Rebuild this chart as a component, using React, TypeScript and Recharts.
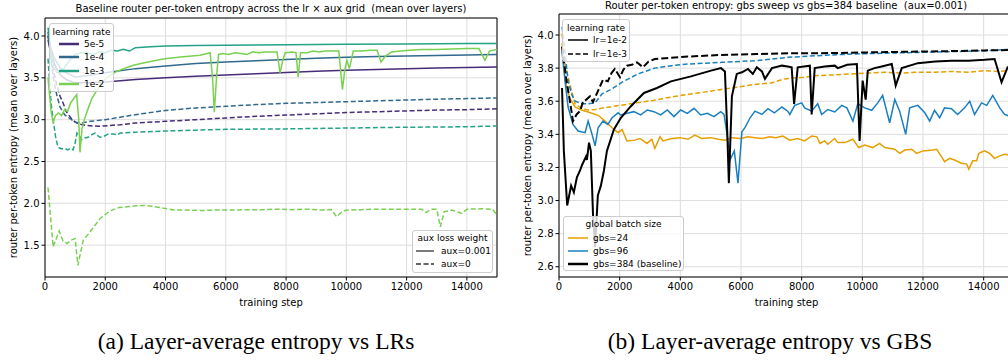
import React from "react";
import { CartesianGrid, Line, LineChart, ReferenceArea, XAxis, YAxis } from "recharts";

type Pt = [number, number];

// ---- (a) lr x aux grid, values are [step, entropy] ----
const lrLabels = ["5e-5", "1e-4", "1e-3", "1e-2"];
const lrColors = ["#472c7a", "#31688e", "#22a385", "#7ad151"];
const auxLabels = ["aux=0.001", "aux=0"];

const lr5e5Aux: Pt[] = [
  [100, 3.95], [200, 3.8], [300, 3.68], [400, 3.6], [500, 3.54], [700, 3.48], [1000, 3.44], [1500, 3.44],
  [2000, 3.45], [3000, 3.48], [4000, 3.5], [5000, 3.52], [6000, 3.535], [7000, 3.55], [8000, 3.565],
  [9000, 3.58], [10000, 3.59], [11000, 3.6], [12000, 3.61], [13000, 3.617], [14000, 3.623], [15000, 3.63],
];
const lr1e4Aux: Pt[] = [
  [100, 4.0], [200, 3.85], [300, 3.74], [500, 3.62], [700, 3.56], [1000, 3.51], [1500, 3.53], [2000, 3.56],
  [3000, 3.61], [4000, 3.64], [5000, 3.67], [6000, 3.69], [7000, 3.705], [8000, 3.72], [9000, 3.735],
  [10000, 3.745], [11000, 3.755], [12000, 3.762], [13000, 3.768], [14000, 3.774], [15000, 3.78],
];
const lr1e3Aux: Pt[] = [
  [100, 4.1], [200, 3.8], [300, 3.62], [400, 3.56], [600, 3.6], [800, 3.7], [1000, 3.78], [1200, 3.8],
  [1400, 3.8], [1600, 3.78], [1800, 3.81], [2000, 3.8], [2200, 3.83], [2400, 3.82], [2600, 3.84],
  [2800, 3.82], [3000, 3.86], [3500, 3.87], [4000, 3.88], [5000, 3.885], [6000, 3.89], [8000, 3.895],
  [10000, 3.9], [12000, 3.905], [14000, 3.91], [15000, 3.91],
];
const lr1e2Aux: Pt[] = [
  [100, 3.5], [200, 3.1], [270, 2.97], [350, 3.05], [450, 3.08], [550, 3.05], [650, 3.12], [750, 3.1],
  [850, 3.2], [950, 3.25], [1050, 3.3], [1120, 3.0], [1160, 2.61], [1230, 2.9], [1330, 3.03], [1450, 3.15],
  [1550, 3.25], [1720, 3.35], [1900, 3.45], [2150, 3.53], [2400, 3.58], [2700, 3.62], [2930, 3.65],
  [3300, 3.68], [3700, 3.71], [4040, 3.73], [4500, 3.75], [5150, 3.77], [5480, 3.8], [5560, 3.5],
  [5620, 3.09], [5700, 3.55], [5760, 3.78], [5900, 3.79], [6100, 3.78], [6300, 3.8], [6500, 3.79],
  [6700, 3.78], [6900, 3.81], [7100, 3.8], [7300, 3.81], [7500, 3.81], [7700, 3.81], [7800, 3.56],
  [7900, 3.72], [7970, 3.8], [8200, 3.81], [8330, 3.8], [8400, 3.51], [8480, 3.8], [8700, 3.8],
  [8900, 3.82], [9100, 3.81], [9300, 3.82], [9500, 3.82], [9750, 3.82], [9870, 3.36], [9950, 3.6],
  [10020, 3.71], [10100, 3.61], [10230, 3.82], [10500, 3.82], [10800, 3.83], [11020, 3.83], [11150, 3.69],
  [11300, 3.76], [11500, 3.81], [11800, 3.82], [12100, 3.83], [12500, 3.84], [13000, 3.84], [13500, 3.845],
  [14000, 3.85], [14400, 3.85], [14600, 3.71], [14750, 3.82], [15000, 3.84],
];
const lr5e5NoAux: Pt[] = [
  [100, 4.0], [200, 3.75], [300, 3.55], [400, 3.4], [500, 3.28], [600, 3.2], [700, 3.1], [900, 3.0],
  [1100, 2.95], [1400, 2.93], [1800, 2.92], [2500, 2.94], [3000, 2.96], [4000, 2.98], [5000, 3.0],
  [6000, 3.02], [7000, 3.04], [8000, 3.055], [9000, 3.07], [10000, 3.085], [11000, 3.095], [12000, 3.105],
  [13000, 3.115], [14000, 3.12], [15000, 3.13],
];
const lr1e4NoAux: Pt[] = [
  [100, 4.05], [200, 3.7], [300, 3.45], [400, 3.28], [500, 3.15], [650, 3.06], [800, 3.02], [1000, 2.97],
  [1200, 2.96], [1500, 2.98], [2000, 3.0], [3000, 3.06], [4000, 3.11], [5000, 3.14], [6000, 3.16],
  [7000, 3.18], [8000, 3.195], [9000, 3.205], [10000, 3.215], [11000, 3.225], [12000, 3.235],
  [13000, 3.245], [14000, 3.252], [15000, 3.26],
];
const lr1e3NoAux: Pt[] = [
  [100, 3.73], [200, 3.2], [270, 3.0], [350, 2.8], [430, 2.67], [550, 2.65], [650, 2.66], [750, 2.64],
  [850, 2.66], [930, 2.64], [1000, 2.72], [1060, 2.84], [1150, 2.8], [1220, 2.76], [1300, 2.78],
  [1430, 2.79], [1550, 2.82], [1660, 2.84], [1750, 2.81], [1830, 2.79], [1950, 2.8], [2100, 2.83],
  [2250, 2.83], [2400, 2.82], [2500, 2.84], [3000, 2.85], [4000, 2.865], [5000, 2.875], [6000, 2.885],
  [8000, 2.89], [10000, 2.9], [12000, 2.91], [14000, 2.915], [14500, 2.92], [15000, 2.925],
];
const lr1e2NoAux: Pt[] = [
  [100, 2.19], [270, 1.48], [470, 1.67], [600, 1.55], [730, 1.52], [870, 1.56], [1000, 1.58], [1090, 1.26],
  [1270, 1.56], [1500, 1.66], [1830, 1.82], [2160, 1.91], [2450, 1.95], [2720, 1.96], [3000, 1.97],
  [3270, 1.975], [3550, 1.965], [3830, 1.95], [4260, 1.92], [4700, 1.92], [5200, 1.915], [5700, 1.92],
  [6200, 1.92], [6700, 1.925], [7200, 1.925], [7700, 1.93], [8200, 1.925], [8700, 1.93], [9200, 1.92],
  [9500, 1.925], [9680, 1.84], [9850, 1.9], [10000, 1.92], [10500, 1.925], [11000, 1.93], [11500, 1.93],
  [12000, 1.93], [12500, 1.93], [12650, 1.89], [12800, 1.93], [13000, 1.93], [13120, 1.72], [13250, 1.9],
  [13500, 1.92], [13840, 1.88], [14000, 1.93], [14500, 1.935], [14850, 1.93], [15000, 1.86],
];

// ---- (b) gbs sweep, aux=0.001 ----
const gbsLabels = ["gbs=24", "gbs=96", "gbs=384 (baseline)"];
const gbsColors = ["#e69f00", "#1a7fc1", "#000000"];
const lrLabelsB = ["lr=1e-2", "lr=1e-3"];

const gbs24Lr1e2: Pt[] = [
  [100, 3.95], [200, 3.725], [360, 3.615], [530, 3.565], [760, 3.545], [960, 3.535], [1290, 3.515],
  [1520, 3.48], [1750, 3.44], [1950, 3.41], [2080, 3.43], [2240, 3.36], [2500, 3.365], [2670, 3.375],
  [2900, 3.345], [3060, 3.37], [3160, 3.315], [3330, 3.385], [3430, 3.36], [3720, 3.375], [4000, 3.38],
  [4250, 3.37], [4480, 3.395], [4700, 3.375], [5000, 3.38], [5250, 3.37], [5470, 3.365], [5700, 3.38],
  [6000, 3.375], [6230, 3.385], [6460, 3.38], [6700, 3.375], [6950, 3.385], [7150, 3.38], [7380, 3.39],
  [7610, 3.365], [7870, 3.375], [8100, 3.36], [8330, 3.39], [8500, 3.385], [8600, 3.345], [8760, 3.36],
  [8860, 3.34], [9090, 3.375], [9190, 3.35], [9420, 3.35], [9690, 3.37], [9880, 3.32], [10080, 3.335],
  [10340, 3.32], [10570, 3.345], [10740, 3.32], [11070, 3.31], [11230, 3.285], [11400, 3.305],
  [11630, 3.31], [11790, 3.285], [12000, 3.3], [12320, 3.305], [12450, 3.31], [12610, 3.265],
  [12710, 3.235], [12880, 3.255], [13040, 3.245], [13270, 3.225], [13440, 3.22], [13510, 3.19],
  [13640, 3.24], [13770, 3.24], [13840, 3.285], [14030, 3.3], [14200, 3.285], [14360, 3.255],
  [14530, 3.27], [14690, 3.28], [15000, 3.27],
];
const gbs24Lr1e3: Pt[] = [
  [100, 4.01], [200, 3.825], [360, 3.7], [530, 3.585], [760, 3.555], [960, 3.547], [1200, 3.55],
  [1480, 3.56], [2000, 3.575], [2570, 3.59], [3100, 3.605], [3690, 3.625], [4200, 3.64], [4780, 3.655],
  [5300, 3.67], [5860, 3.685], [6400, 3.7], [6980, 3.71], [7440, 3.735], [8070, 3.745], [8530, 3.755],
  [9160, 3.76], [9650, 3.765], [10200, 3.77], [10740, 3.775], [11300, 3.77], [11830, 3.775],
  [12400, 3.775], [12940, 3.78], [13500, 3.775], [14030, 3.785], [14500, 3.78], [15000, 3.79],
];
const gbs96Lr1e2: Pt[] = [
  [100, 3.9], [200, 3.72], [300, 3.565], [460, 3.46], [630, 3.42], [860, 3.41], [960, 3.48], [1090, 3.4],
  [1190, 3.33], [1290, 3.44], [1450, 3.48], [1610, 3.46], [1750, 3.5], [1950, 3.53], [2030, 3.517],
  [2250, 3.527], [2470, 3.537], [2690, 3.517], [2910, 3.547], [3130, 3.537], [3350, 3.517], [3570, 3.547],
  [3790, 3.507], [4010, 3.547], [4230, 3.527], [4450, 3.557], [4670, 3.517], [4890, 3.527], [5110, 3.507],
  [5330, 3.537], [5440, 3.52], [5540, 3.4], [5650, 3.25], [5780, 3.3], [5900, 3.105], [6030, 3.415],
  [6130, 3.44], [6300, 3.5], [6460, 3.54], [6690, 3.52], [6890, 3.555], [7100, 3.53], [7350, 3.565],
  [7540, 3.54], [7610, 3.52], [7770, 3.575], [8000, 3.59], [8100, 3.56], [8330, 3.54], [8530, 3.585],
  [8660, 3.52], [8860, 3.55], [9090, 3.535], [9320, 3.575], [9490, 3.56], [9690, 3.48], [9850, 3.585],
  [10080, 3.56], [10310, 3.545], [10510, 3.59], [10670, 3.635], [10900, 3.47], [11070, 3.61],
  [11230, 3.54], [11430, 3.4], [11560, 3.56], [11830, 3.575], [12060, 3.53], [12220, 3.48],
  [12380, 3.545], [12550, 3.5], [12710, 3.56], [12940, 3.555], [13140, 3.52], [13370, 3.56],
  [13540, 3.6], [13700, 3.52], [13930, 3.59], [14100, 3.575], [14300, 3.635], [14530, 3.56],
  [14690, 3.52], [15000, 3.5],
];
const gbs96Lr1e3: Pt[] = [
  [100, 4.05], [180, 3.93], [300, 3.72], [420, 3.64], [530, 3.6], [760, 3.585], [960, 3.585], [1190, 3.59],
  [1420, 3.645], [1750, 3.675], [2080, 3.715], [2600, 3.765], [3160, 3.8], [3720, 3.815], [4250, 3.825],
  [5370, 3.835], [6460, 3.845], [7000, 3.855], [7540, 3.865], [8500, 3.875], [9650, 3.885],
  [10700, 3.89], [11830, 3.895], [13000, 3.9], [14030, 3.905], [14500, 3.91], [15000, 3.915],
];
const gbs384Lr1e2: Pt[] = [
  [100, 3.68], [160, 3.3], [270, 2.97], [400, 3.09], [490, 3.05], [590, 3.14], [690, 3.18], [760, 3.215],
  [890, 3.265], [920, 3.245], [990, 3.35], [1050, 3.3], [1120, 2.92], [1190, 2.72], [1280, 3.03],
  [1380, 3.09], [1480, 3.18], [1580, 3.3], [1810, 3.43], [2040, 3.5], [2370, 3.57], [2800, 3.65],
  [3230, 3.68], [3690, 3.72], [4350, 3.75], [5010, 3.785], [5340, 3.8], [5470, 3.78], [5540, 3.45],
  [5600, 3.105], [5700, 3.63], [5860, 3.765], [6030, 3.775], [6230, 3.795], [6390, 3.765], [6520, 3.805],
  [6690, 3.78], [6790, 3.735], [7020, 3.8], [7350, 3.815], [7540, 3.81], [7670, 3.805], [7750, 3.583],
  [7870, 3.805], [8270, 3.815], [8330, 3.52], [8430, 3.8], [8760, 3.81], [9090, 3.815], [9190, 3.8],
  [9500, 3.82], [9820, 3.825], [9910, 3.36], [10010, 3.725], [10110, 3.61], [10180, 3.785], [10400, 3.8],
  [10640, 3.81], [10970, 3.825], [11100, 3.695], [11300, 3.8], [11830, 3.83], [12400, 3.84],
  [12940, 3.845], [13500, 3.845], [14030, 3.85], [14360, 3.855], [14590, 3.715], [14790, 3.805],
  [15000, 3.82],
];
const gbs384Lr1e3: Pt[] = [
  [100, 3.93], [250, 3.72], [360, 3.6], [460, 3.48], [580, 3.52], [690, 3.54], [800, 3.6], [900, 3.61],
  [1020, 3.63], [1120, 3.595], [1280, 3.66], [1450, 3.73], [1610, 3.72], [1730, 3.77], [1840, 3.795],
  [2010, 3.745], [2120, 3.79], [2240, 3.815], [2400, 3.82], [2570, 3.835], [2770, 3.805], [2950, 3.84],
  [3160, 3.855], [3500, 3.86], [4250, 3.87], [5370, 3.88], [6500, 3.885], [7540, 3.89], [8500, 3.89],
  [9650, 3.893], [10800, 3.897], [11830, 3.9], [13000, 3.903], [14030, 3.907], [15000, 3.91],
];

const xTicks = [0, 2000, 4000, 6000, 8000, 10000, 12000, 14000];
const yTicksA = [1.5, 2.0, 2.5, 3.0, 3.5, 4.0];
const yTicksB = [2.6, 2.8, 3.0, 3.2, 3.4, 3.6, 3.8, 4.0];

const sans = "'DejaVu Sans', 'Liberation Sans', sans-serif";
const serif = "'Liberation Serif', 'Times New Roman', serif";

type Series = { id: string; data: Pt[]; color: string; dashed: boolean; width: number };

const seriesA: Series[] = [
  { id: "a0s", data: lr5e5Aux, color: lrColors[0], dashed: false, width: 1.5 },
  { id: "a0d", data: lr5e5NoAux, color: lrColors[0], dashed: true, width: 1.5 },
  { id: "a1s", data: lr1e4Aux, color: lrColors[1], dashed: false, width: 1.5 },
  { id: "a1d", data: lr1e4NoAux, color: lrColors[1], dashed: true, width: 1.5 },
  { id: "a2s", data: lr1e3Aux, color: lrColors[2], dashed: false, width: 1.5 },
  { id: "a2d", data: lr1e3NoAux, color: lrColors[2], dashed: true, width: 1.5 },
  { id: "a3s", data: lr1e2Aux, color: lrColors[3], dashed: false, width: 1.5 },
  { id: "a3d", data: lr1e2NoAux, color: lrColors[3], dashed: true, width: 1.5 },
];

const seriesB: Series[] = [
  { id: "b0s", data: gbs24Lr1e2, color: gbsColors[0], dashed: false, width: 1.5 },
  { id: "b0d", data: gbs24Lr1e3, color: gbsColors[0], dashed: true, width: 1.5 },
  { id: "b1s", data: gbs96Lr1e2, color: gbsColors[1], dashed: false, width: 1.5 },
  { id: "b1d", data: gbs96Lr1e3, color: gbsColors[1], dashed: true, width: 1.5 },
  { id: "b2s", data: gbs384Lr1e2, color: gbsColors[2], dashed: false, width: 2 },
  { id: "b2d", data: gbs384Lr1e3, color: gbsColors[2], dashed: true, width: 2 },
];

const toPoints = (d: Pt[]) => d.map(([x, y]) => ({ x, y }));

function EntropyPanel(props: {
  series: Series[];
  yDomain: [number, number];
  yTicks: number[];
  top: number;
  right: number;
  width: number;
}) {
  const { series, yDomain, yTicks, top, right, width } = props;
  const tick = { fontSize: 10, fill: "#000", fontFamily: sans };
  const labelStyle = { fontSize: 10, fill: "#000", fontFamily: sans, whiteSpace: "pre" as const };
  return (
    <LineChart width={width} height={310} margin={{ top, right, bottom: 3, left: 0 }}>
      <CartesianGrid stroke="#dddddd" strokeWidth={1} />
      <XAxis
        type="number"
        dataKey="x"
        domain={[0, 15000]}
        ticks={xTicks}
        allowDataOverflow
        height={30}
        axisLine={false}
        tickSize={3.5}
        tickMargin={2}
        tickLine={{ stroke: "#000" }}
        tick={tick}
        label={{ value: "training step", position: "insideBottom", offset: 1, style: labelStyle }}
      />
      <YAxis
        type="number"
        dataKey="y"
        domain={yDomain}
        ticks={yTicks}
        allowDataOverflow
        width={45}
        axisLine={false}
        tickSize={3.5}
        tickMargin={2}
        tickLine={{ stroke: "#000" }}
        tick={tick}
        tickFormatter={(v: number) => v.toFixed(1)}
        label={{
          value: "router per-token entropy  (mean over layers)",
          angle: -90,
          position: "insideLeft",
          offset: 13,
          style: { ...labelStyle, textAnchor: "middle" },
        }}
      />
      <ReferenceArea x1={0} x2={15000} y1={yDomain[0]} y2={yDomain[1]} fill="none" stroke="#000" strokeWidth={1} />
      {series.map((s) => (
        <Line
          key={s.id}
          data={toPoints(s.data)}
          dataKey="y"
          type="linear"
          dot={false}
          activeDot={false}
          stroke={s.color}
          strokeWidth={s.width}
          strokeDasharray={s.dashed ? (s.width > 1.8 ? "7 3" : "5 2.5") : undefined}
          isAnimationActive={false}
        />
      ))}
    </LineChart>
  );
}

type Row = { label: string; color: string; dashed: boolean; lw: number };

function LegendBox(props: {
  left: number;
  top: number;
  w: number;
  h: number;
  title: string;
  titleY: number;
  rowY: number;
  gap: number;
  sx: number;
  sw: number;
  lx: number;
  rows: Row[];
}) {
  const { left, top, w, h, title, titleY, rowY, gap, sx, sw, lx, rows } = props;
  return (
    <div
      style={{
        position: "absolute",
        left,
        top,
        width: w,
        height: h,
        boxSizing: "border-box",
        border: "1px solid #cccccc",
        borderRadius: 3,
        background: "rgba(255,255,255,0.8)",
        fontFamily: sans,
        fontSize: 9,
        color: "#000",
      }}
    >
      <div style={{ position: "absolute", left: 0, width: w - 2, top: titleY - 6, lineHeight: "12px", textAlign: "center", whiteSpace: "nowrap" }}>
        {title}
      </div>
      {rows.map((r, i) => {
        const cy = rowY + i * gap;
        return (
          <React.Fragment key={r.label}>
            <svg style={{ position: "absolute", left: sx, top: cy - 4 }} width={sw} height={8}>
              <line x1={0} x2={sw} y1={4} y2={4} stroke={r.color} strokeWidth={r.lw} strokeDasharray={r.dashed ? "5 2.5" : undefined} />
            </svg>
            <div style={{ position: "absolute", left: lx, top: cy - 6, lineHeight: "12px", whiteSpace: "nowrap" }}>{r.label}</div>
          </React.Fragment>
        );
      })}
    </div>
  );
}

export default function App() {
  const titleStyle: React.CSSProperties = {
    position: "absolute",
    width: 500,
    fontFamily: sans,
    fontSize: 10,
    lineHeight: "12px",
    textAlign: "center",
    whiteSpace: "pre",
    color: "#000",
  };
  const capStyle: React.CSSProperties = {
    position: "absolute",
    width: 500,
    fontFamily: serif,
    fontSize: 23.5,
    lineHeight: "26px",
    textAlign: "center",
    whiteSpace: "nowrap",
    color: "#000",
  };
  return (
    <div style={{ position: "absolute", left: 0, top: 0, width: 1008, height: 360, overflow: "hidden", background: "#fff" }}>
      <div style={{ position: "absolute", left: 0, top: 0 }}>
        <EntropyPanel series={seriesA} yDomain={[1.12, 4.215]} yTicks={yTicksA} top={18} right={3} width={500} />
      </div>
      <div style={{ position: "absolute", left: 514, top: 0 }}>
        <EntropyPanel series={seriesB} yDomain={[2.538, 4.127]} yTicks={yTicksB} top={14} right={0} width={500} />
      </div>

      <div style={{ ...titleStyle, left: 21, top: 3 }}>
        {"Baseline router per-token entropy across the lr × aux grid  (mean over layers)"}
      </div>
      <div style={{ ...titleStyle, left: 536, top: 0 }}>
        {"Router per-token entropy: gbs sweep vs gbs=384 baseline  (aux=0.001)"}
      </div>

      <LegendBox
        left={49} top={23} w={65} h={69} title="learning rate" titleY={8} rowY={20} gap={13.3} sx={9} sw={20} lx={34}
        rows={lrLabels.map((l, i) => ({ label: l, color: lrColors[i], dashed: false, lw: 2.5 }))}
      />
      <LegendBox
        left={412} top={230} w={81} h={43} title="aux loss weight" titleY={7} rowY={20} gap={13} sx={3} sw={18} lx={28}
        rows={auxLabels.map((l, i) => ({ label: l, color: "#333", dashed: i === 1, lw: 1.3 }))}
      />
      <LegendBox
        left={562} top={19} w={68} h={43} title="learning rate" titleY={8} rowY={20} gap={13.5} sx={5} sw={20} lx={30}
        rows={lrLabelsB.map((l, i) => ({ label: l, color: "#000", dashed: i === 1, lw: 1.5 }))}
      />
      <LegendBox
        left={563} top={216} w={121} h={55} title="global batch size" titleY={7} rowY={21} gap={13} sx={4} sw={20} lx={29}
        rows={gbsLabels.map((l, i) => ({ label: l, color: gbsColors[i], dashed: false, lw: i === 2 ? 2.5 : 1.5 }))}
      />

      <div style={{ ...capStyle, left: 6, top: 328 }}>(a) Layer-average entropy vs LRs</div>
      <div style={{ ...capStyle, left: 520, top: 328 }}>(b) Layer-average entropy vs GBS</div>
    </div>
  );
}
